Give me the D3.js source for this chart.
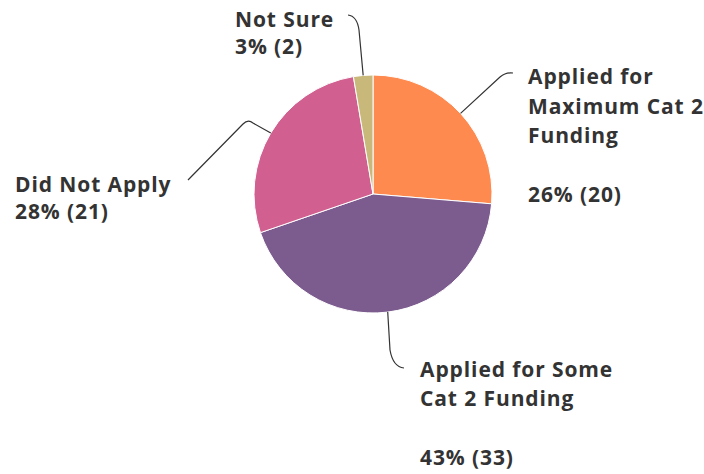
<!DOCTYPE html>
<html>
<head>
<meta charset="utf-8">
<script src="https://cdn.jsdelivr.net/npm/d3@7"></script>
<style>
  body { margin: 0; background: #fff; }
  .lbl { font-family: "Open Sans", sans-serif; font-weight: 700; font-size: 21px; letter-spacing: 0.9px; fill: #333; }
</style>
</head>
<body>
<div id="chart"></div>
<script>
const svgWidth = 704
const svgHeight = 474

// data
const categories = ["Applied for Maximum Cat 2 Funding", "Applied for Some Cat 2 Funding", "Did Not Apply", "Not Sure"]
const counts = [20, 33, 21, 2]
const colors = ["#fe8a4f", "#7c5c8f", "#d15f8f", "#c8b97a"]
const nameLines = [
  ["Applied for", "Maximum Cat 2", "Funding", ""],
  ["Applied for Some", "Cat 2 Funding", ""],
  ["Did Not Apply"],
  ["Not Sure"]
]

const total = d3.sum(counts)

// layout
const cx = 373, cy = 194, radius = 119
const labelLayout = [
  { x: 528, y: 84, lh: 29.5, bend: [500, 77], ctrl: [506, 72], end: [513, 73] },
  { x: 420, y: 377, lh: 29.3, bend: [390, 350], ctrl: [393, 367], end: [404, 368] },
  { x: 15, y: 192, lh: 27, bend: [253, 123], ctrl: [248, 119], end: [243, 124], tail: [188, 180] },
  { x: 235, y: 27, lh: 27, bend: [359, 30], ctrl: [357, 16], end: [348, 15] }
]

let svg = d3.select("#chart")
  .append("svg")
  .attr("width", svgWidth)
  .attr("height", svgHeight)

let pie = d3.pie().sort(null).value(d => d)
let arcs = pie(counts)
let arc = d3.arc().innerRadius(0).outerRadius(radius)

let pieGroup = svg.append("g")
  .attr("transform", `translate(${cx}, ${cy})`)

pieGroup.selectAll("path")
  .data(arcs)
  .enter()
  .append("path")
  .attr("d", arc)
  .attr("fill", (d, i) => colors[i])
  .attr("stroke", "#fff")
  .attr("stroke-width", 1)

// leader lines
arcs.forEach((d, i) => {
  let a = (d.startAngle + d.endAngle) / 2
  let sx = cx + radius * Math.sin(a)
  let sy = cy - radius * Math.cos(a)
  let L = labelLayout[i]
  let p = d3.path()
  p.moveTo(sx, sy)
  p.lineTo(L.bend[0], L.bend[1])
  p.quadraticCurveTo(L.ctrl[0], L.ctrl[1], L.end[0], L.end[1])
  if (L.tail) p.lineTo(L.tail[0], L.tail[1])
  svg.append("path")
    .attr("d", p.toString())
    .attr("fill", "none")
    .attr("stroke", "#333")
    .attr("stroke-width", 1.2)
})

// labels
arcs.forEach((d, i) => {
  let L = labelLayout[i]
  let pct = Math.round(counts[i] / total * 100)
  let lines = nameLines[i].concat([`${pct}% (${counts[i]})`])
  let text = svg.append("text")
    .attr("class", "lbl")
    .attr("x", L.x)
    .attr("y", L.y)
  lines.forEach((line, j) => {
    text.append("tspan")
      .attr("x", L.x)
      .attr("y", L.y + j * L.lh)
      .text(line)
  })
})
</script>
</body>
</html>
